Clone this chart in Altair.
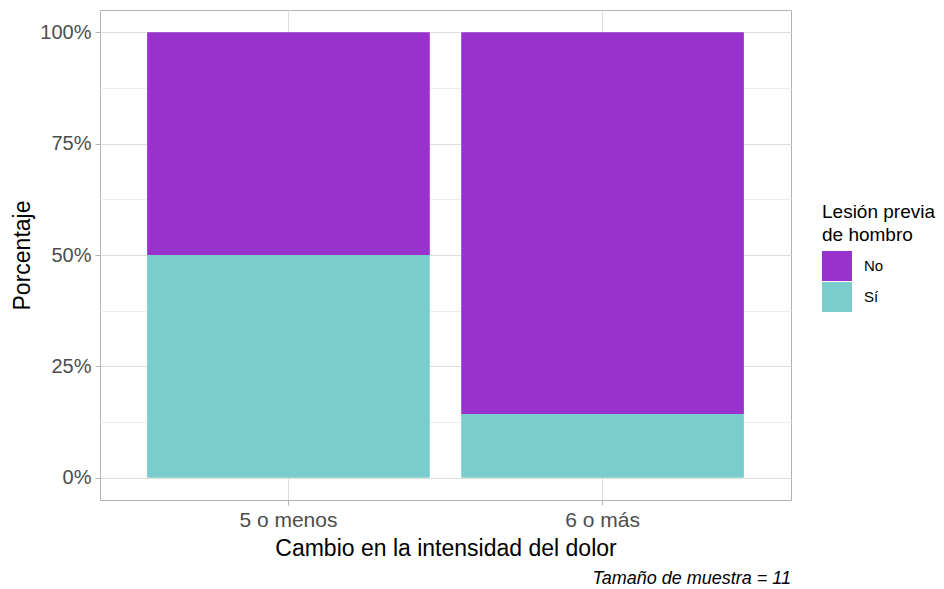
import altair as alt
import pandas as pd

categorias = ["5 o menos", "6 o más"]
lesion = ["No", "Sí"]
conteo_no = [2, 6]
conteo_si = [2, 1]
orden_lesion = {"No": 1, "Sí": 0}
colores = ["#9932CC", "#79CDCD"]
y_ticks = [0, 0.125, 0.25, 0.375, 0.5, 0.625, 0.75, 0.875, 1.0]

rows = []
for i, c in enumerate(categorias):
    rows.append({"cambio": c, "lesion": "No", "n": conteo_no[i], "orden": orden_lesion["No"]})
    rows.append({"cambio": c, "lesion": "Sí", "n": conteo_si[i], "orden": orden_lesion["Sí"]})
df = pd.DataFrame(rows)

FONT = "Liberation Sans"
major_test = "(datum.value * 4) % 1 === 0"

chart = alt.Chart(df).mark_bar().encode(
    x=alt.X(
        "cambio:N",
        sort=categorias,
        title="Cambio en la intensidad del dolor",
        scale=alt.Scale(paddingInner=0.1, paddingOuter=0.15),
        axis=alt.Axis(
            labelAngle=0, bandPosition=0.5, domain=False, grid=True,
            gridColor="#dedede", tickColor="#b3b3b3", tickSize=5,
            labelFont=FONT, labelFontSize=21, labelColor="#4d4d4d", labelPadding=4,
            titleFont=FONT, titleFontSize=23, titleFontWeight="normal", titleColor="#000000",
            titlePadding=7,
        ),
    ),
    y=alt.Y(
        "n:Q",
        stack="normalize",
        title="Porcentaje",
        scale=alt.Scale(domain=[-0.05, 1.05], nice=False, zero=False),
        axis=alt.Axis(
            values=y_ticks, domain=False, grid=True,
            labelExpr=f"{major_test} ? format(datum.value, '.0%') : ''",
            gridColor={"condition": {"test": major_test, "value": "#dedede"}, "value": "#ededed"},
            tickColor={"condition": {"test": major_test, "value": "#b3b3b3"}, "value": "transparent"},
            tickSize=5,
            labelFont=FONT, labelFontSize=20, labelColor="#4d4d4d", labelPadding=4,
            titleFont=FONT, titleFontSize=23, titleFontWeight="normal", titleColor="#000000",
            titlePadding=5,
        ),
    ),
    color=alt.Color(
        "lesion:N",
        scale=alt.Scale(domain=lesion, range=colores),
        legend=alt.Legend(
            title=["Lesión previa", "de hombro"], orient="none", legendX=722, legendY=193,
            titleFont=FONT, titleFontSize=19, titleFontWeight="normal", titleColor="#000000",
            titlePadding=6, titleLineHeight=23,
            symbolType="square", symbolSize=900, symbolStrokeWidth=0, symbolOpacity=1,
            labelFont=FONT, labelFontSize=15, labelColor="#000000", labelOffset=12,
            rowPadding=1, padding=0,
        ),
    ),
    order=alt.Order("orden:Q", sort="ascending"),
).properties(
    width=691,
    height=490,
    autosize=alt.AutoSizeParams(type="none"),
    padding={"left": 92, "top": 2, "right": 145, "bottom": 89},
    title=alt.TitleParams(
        "Tamaño de muestra = 11", orient="bottom", anchor="end", frame="group",
        font=FONT, fontSize=18, fontStyle="italic", fontWeight="normal", color="#000000",
        offset=10,
    ),
).configure_view(stroke="#b3b3b3", strokeWidth=1)

chart.save("out.html", embed_options={"renderer": "svg", "actions": False})
